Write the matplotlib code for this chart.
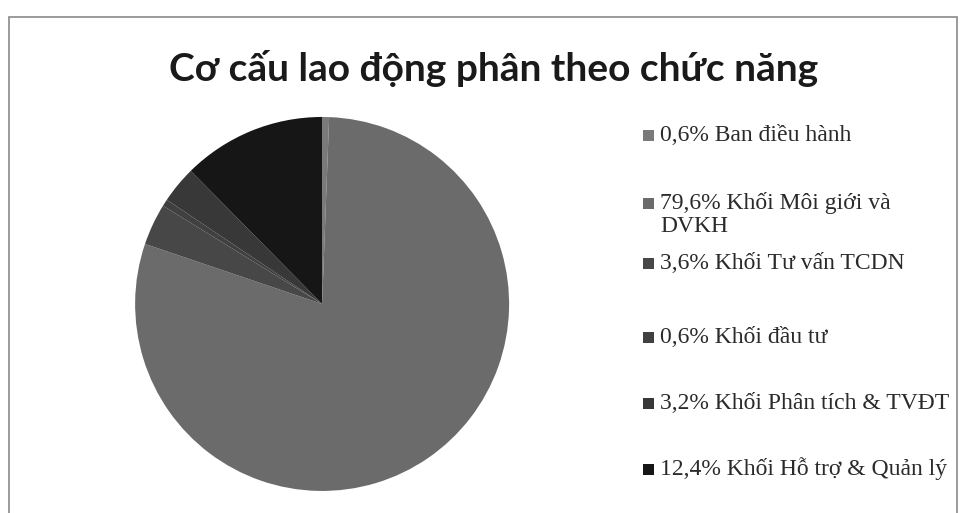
import matplotlib.pyplot as plt
from matplotlib.patches import Rectangle

title = 'Cơ cấu lao động phân theo chức năng'
shares = [0.6, 79.6, 3.6, 0.6, 3.2, 12.4]
names = ['Ban điều hành', 'Khối Môi giới và\nDVKH', 'Khối Tư vấn TCDN',
         'Khối đầu tư', 'Khối Phân tích & TVĐT', 'Khối Hỗ trợ & Quản lý']
colors = ['#7a7a7a', '#6b6b6b', '#474747', '#404040', '#383838', '#161616']

labels = [f'{str(v).replace(".", ",")}% {n}' for v, n in zip(shares, names)]

W, H = 965, 513
fig = plt.figure(figsize=(W / 100, H / 100), dpi=100)
fig.patch.set_facecolor('white')

# chart frame
fig.patches.append(Rectangle((0.009, -0.01), 0.983, 0.977, transform=fig.transFigure,
                             fill=False, edgecolor='#8a8a8a', linewidth=1.2))

fig.text(0.512, 0.842, title, ha='center', va='baseline', fontsize=28,
         fontweight='bold', family=['Lato', 'DejaVu Sans'], color='#1a1a1a')

ax = fig.add_axes([0.140, 0.043, 0.3876, 0.729])
wedges, _ = ax.pie(shares, colors=colors, startangle=90, counterclock=False,
                   wedgeprops=dict(linewidth=0))
ax.set_xlim(-1, 1)
ax.set_ylim(-1, 1)
ax.set_aspect('equal')

# legend drawn by hand, excel spaces the rows unevenly
row_y = [135, 203, 263, 337, 403, 469]
box = 11
line_step = 23
for lab, col, y in zip(labels, colors, row_y):
    fig.patches.append(Rectangle((643 / W, 1 - (y + box / 2) / H), box / W, box / H,
                                 transform=fig.transFigure, facecolor=col,
                                 edgecolor='none'))
    for i, part in enumerate(lab.split('\n')):
        fig.text(660 / W, 1 - (y + 6 + i * line_step) / H, part, ha='left',
                 va='baseline', fontsize=17, family='Liberation Serif',
                 color='#2a2a2a')

fig.savefig('out.png', dpi=100, facecolor='white')
